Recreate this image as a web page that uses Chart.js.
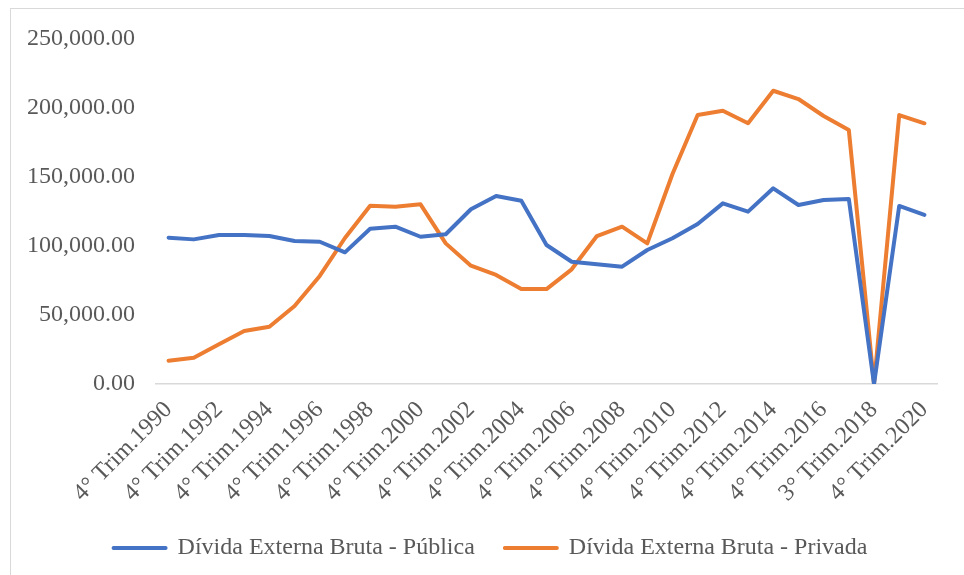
<!DOCTYPE html>
<html lang="pt">
<head>
  <meta charset="UTF-8" />
  <title>Dívida Externa Bruta</title>
  <script src="https://cdn.jsdelivr.net/npm/chart.js"></script>
  <style>
    body {
      margin: 0;
      background: #fff;
      width: 964px;
      height: 575px;
      overflow: hidden;
      position: relative;
    }
    .frame {
      position: absolute;
      left: 10px;
      top: 8px;
      width: 980px;
      height: 600px;
      border: 1.5px solid #d9d9d9;
    }
    .chart-box {
      position: absolute;
      left: 0;
      top: 0;
      width: 964px;
      height: 575px;
    }
  </style>
</head>
<body>
  <div class="frame"></div>
  <div class="chart-box">
    <canvas id="debtChart"></canvas>
  </div>

  <script>
    const categories = [
      '4° Trim.1990', '4° Trim.1991', '4° Trim.1992', '4° Trim.1993', '4° Trim.1994',
      '4° Trim.1995', '4° Trim.1996', '4° Trim.1997', '4° Trim.1998', '4° Trim.1999',
      '4° Trim.2000', '4° Trim.2001', '4° Trim.2002', '4° Trim.2003', '4° Trim.2004',
      '4° Trim.2005', '4° Trim.2006', '4° Trim.2007', '4° Trim.2008', '4° Trim.2009',
      '4° Trim.2010', '4° Trim.2011', '4° Trim.2012', '4° Trim.2013', '4° Trim.2014',
      '4° Trim.2015', '4° Trim.2016', '4° Trim.2017', '3° Trim.2018', '4° Trim.2019',
      '4° Trim.2020'
    ];

    const publica = [
      106000, 104800, 108000, 108000, 107200, 103600, 103100, 95400, 112500, 114000,
      106700, 108500, 126600, 136200, 132800, 100700, 88600, 86700, 85000, 97100,
      105600, 115900, 130900, 124900, 141800, 129700, 133300, 134100, 0, 129000,
      122500
    ];

    const privada = [
      16900, 19100, 28800, 38400, 41500, 56500, 78300, 105800, 129200, 128500,
      130200, 101900, 85700, 79000, 68800, 68800, 83100, 107200, 114000, 101900,
      152200, 194900, 198000, 188900, 212500, 206500, 194200, 184100, 0, 194900,
      188900
    ];

    const seriesNames = ['Dívida Externa Bruta - Pública', 'Dívida Externa Bruta - Privada'];
    const seriesColors = ['#4472C4', '#ED7D31'];

    const textColor = '#595959';
    const fontFamily = '"Liberation Serif", "Times New Roman", serif';

    // nudge the legend row a bit to the right, like the original
    const legendShift = {
      id: 'legendShift',
      afterLayout(chart) {
        chart.legend.left += 12;
        chart.legend.right += 12;
      }
    };

    const ctx = document.getElementById('debtChart').getContext('2d');
    new Chart(ctx, {
      type: 'line',
      data: {
        labels: categories,
        datasets: [
          {
            label: seriesNames[0],
            data: publica,
            borderColor: seriesColors[0],
            backgroundColor: seriesColors[0],
            borderWidth: 4,
            borderJoinStyle: 'round',
            borderCapStyle: 'round',
            pointRadius: 0,
            tension: 0
          },
          {
            label: seriesNames[1],
            data: privada,
            borderColor: seriesColors[1],
            backgroundColor: seriesColors[1],
            borderWidth: 4,
            borderJoinStyle: 'round',
            borderCapStyle: 'round',
            pointRadius: 0,
            tension: 0
          }
        ]
      },
      options: {
        responsive: true,
        maintainAspectRatio: false,
        animation: false,
        layout: {
          padding: { top: 39, right: 27, bottom: 5, left: 20 }
        },
        plugins: {
          tooltip: { enabled: false },
          legend: {
            display: true,
            position: 'bottom',
            labels: {
              boxWidth: 52,
              boxHeight: 0,
              padding: 30,
              color: textColor,
              font: { family: fontFamily, size: 24 }
            }
          }
        },
        scales: {
          x: {
            offset: true,
            grid: { display: false, drawTicks: false },
            border: { display: true, color: '#d9d9d9', width: 1.5 },
            ticks: {
              autoSkip: false,
              maxRotation: 45,
              minRotation: 45,
              padding: 12,
              color: textColor,
              font: { family: fontFamily, size: 24 },
              callback: (value, index) => (index % 2 === 0 ? categories[index] : '')
            },
            afterFit: (scale) => { scale.height = 122; }
          },
          y: {
            min: 0,
            max: 250000,
            grid: { display: false, drawTicks: false },
            border: { display: false },
            ticks: {
              stepSize: 50000,
              padding: 21,
              color: textColor,
              font: { family: fontFamily, size: 24 },
              callback: (value) => value.toLocaleString('en-US', { minimumFractionDigits: 2, maximumFractionDigits: 2 })
            },
            afterFit: (scale) => { scale.width = 136; }
          }
        }
      },
      plugins: [legendShift]
    });
  </script>
</body>
</html>
